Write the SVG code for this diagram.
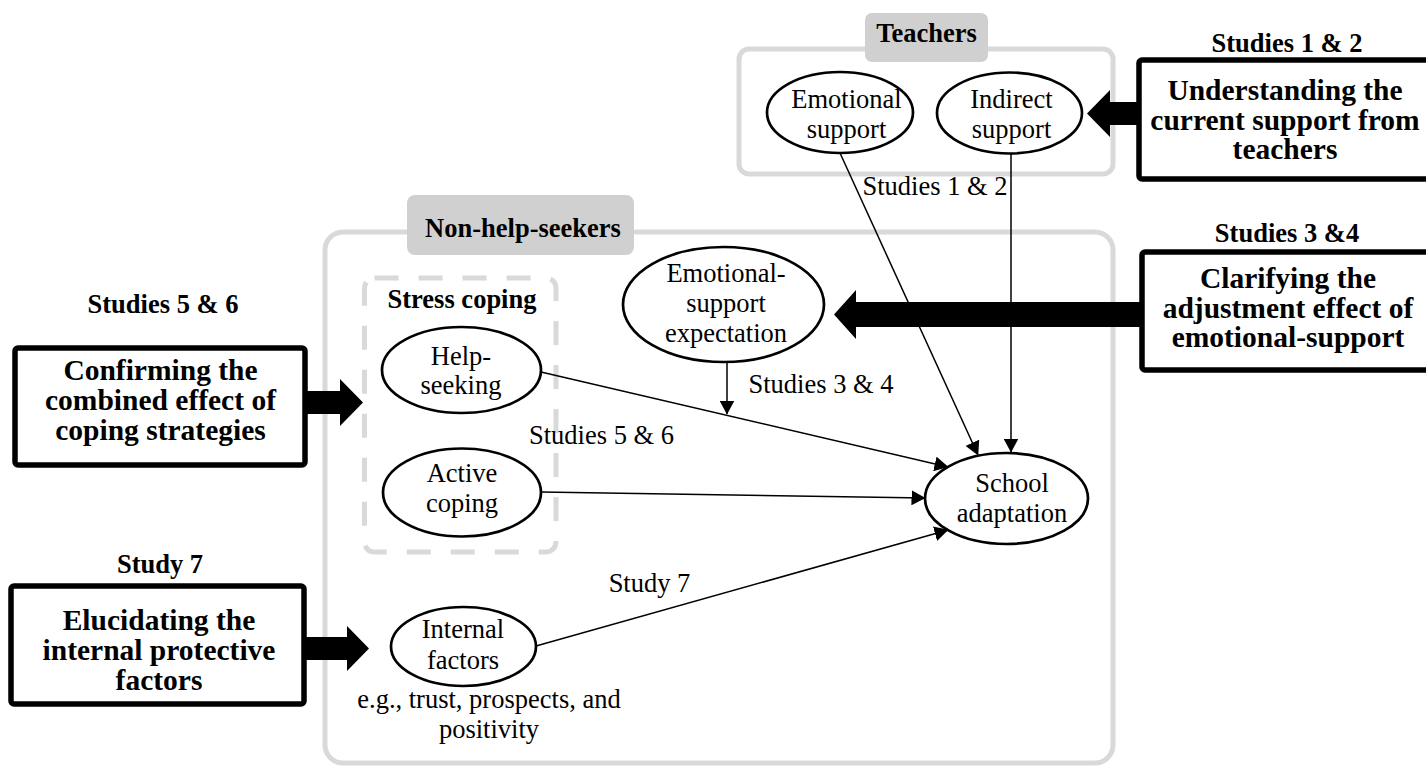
<svg xmlns="http://www.w3.org/2000/svg" width="1426" height="767" viewBox="0 0 1426 767">
  <defs>
    <style>
      .t { font-family: "Liberation Serif", "Times New Roman", serif; font-size: 26.5px; fill: #000; text-anchor: middle; }
      .b { font-weight: bold; }
      .bx { font-size: 29.5px; }
      .group { fill: none; stroke: #d9d9d9; stroke-width: 5; }
      .dash { fill: none; stroke: #d9d9d9; stroke-width: 5; stroke-dasharray: 24 20; }
      .tag { fill: #d0d0d0; stroke: none; }
      .node { fill: #fff; stroke: #000; stroke-width: 2.7; }
      .study { fill: #fff; stroke: #000; stroke-width: 5.5; }
      .edge { fill: none; stroke: #000; stroke-width: 1.5; }
      .block { fill: #000; stroke: none; }
    </style>
    <marker id="head" markerUnits="userSpaceOnUse" viewBox="0 0 14 15" refX="13.5" refY="7.5" markerWidth="14" markerHeight="15" orient="auto">
      <path d="M0,0 L14,7.5 L0,15 Z" fill="#000"/>
    </marker>
  </defs>

  <rect width="1426" height="767" fill="#fff"/>

  <!-- Group frames -->
  <g id="teachers-group">
    <rect class="group" x="739" y="49" width="374" height="125" rx="10"/>
    <rect class="tag" x="865" y="13" width="123" height="49" rx="7"/>
    <text class="t b" x="926.5" y="42">Teachers</text>
  </g>

  <g id="non-help-seekers-group">
    <rect class="group" x="325" y="232" width="788" height="531" rx="18"/>
    <rect class="tag" x="407" y="195" width="227" height="60" rx="8"/>
    <text class="t b" x="523" y="237">Non-help-seekers</text>
  </g>

  <g id="stress-coping-group">
    <rect class="dash" x="364.5" y="278" width="191.5" height="274" rx="10"/>
    <text class="t b" x="462" y="308">Stress coping</text>
  </g>

  <!-- Connectors -->
  <g id="connectors">
    <line class="edge" x1="840" y1="153" x2="978" y2="455" marker-end="url(#head)"/>
    <line class="edge" x1="1011" y1="153" x2="1011" y2="452" marker-end="url(#head)"/>
    <line class="edge" x1="541" y1="372" x2="948" y2="467" marker-end="url(#head)"/>
    <line class="edge" x1="541" y1="492" x2="925" y2="498" marker-end="url(#head)"/>
    <line class="edge" x1="536" y1="646" x2="948" y2="530" marker-end="url(#head)"/>
    <line class="edge" x1="727" y1="362" x2="727" y2="414" marker-end="url(#head)"/>

    <!-- Block arrows from the study boxes -->
    <path class="block" d="M1140,102 L1110,102 L1110,90 L1087,113.5 L1110,137 L1110,125 L1140,125 Z"/>
    <path class="block" d="M1142,302 L856,302 L856,290 L834,314.5 L856,339 L856,327 L1142,327 Z"/>
    <path class="block" d="M305,391 L340,391 L340,379 L363,402.5 L340,426 L340,414 L305,414 Z"/>
    <path class="block" d="M304,637 L347,637 L347,626 L369,648.5 L347,671 L347,660 L304,660 Z"/>

    <text class="t" x="935" y="195">Studies 1 &amp; 2</text>
    <text class="t" x="821" y="393">Studies 3 &amp; 4</text>
    <text class="t" x="601.5" y="444">Studies 5 &amp; 6</text>
    <text class="t" x="649.5" y="592">Study 7</text>
  </g>

  <!-- Construct nodes -->
  <g id="emotional-support">
    <ellipse class="node" cx="840" cy="112.5" rx="73" ry="40.5"/>
    <text class="t" x="846.5" y="108">Emotional</text>
    <text class="t" x="846.5" y="138">support</text>
  </g>

  <g id="indirect-support">
    <ellipse class="node" cx="1009.5" cy="113" rx="72.5" ry="40.5"/>
    <text class="t" x="1011.5" y="108">Indirect</text>
    <text class="t" x="1011.5" y="138">support</text>
  </g>

  <g id="emotional-support-expectation">
    <ellipse class="node" cx="723.5" cy="304.5" rx="100.5" ry="57.5"/>
    <text class="t" x="726" y="282">Emotional-</text>
    <text class="t" x="726" y="312">support</text>
    <text class="t" x="726" y="342">expectation</text>
  </g>

  <g id="help-seeking">
    <ellipse class="node" cx="461.5" cy="370" rx="79.5" ry="43"/>
    <text class="t" x="461" y="365">Help-</text>
    <text class="t" x="461" y="394">seeking</text>
  </g>

  <g id="active-coping">
    <ellipse class="node" cx="462" cy="492.5" rx="79" ry="44"/>
    <text class="t" x="462" y="482">Active</text>
    <text class="t" x="462" y="512">coping</text>
  </g>

  <g id="internal-factors">
    <ellipse class="node" cx="463.5" cy="646.5" rx="72.5" ry="39.5"/>
    <text class="t" x="463" y="638">Internal</text>
    <text class="t" x="463" y="669">factors</text>
    <text class="t" x="489" y="708">e.g., trust, prospects, and</text>
    <text class="t" x="489" y="738">positivity</text>
  </g>

  <g id="school-adaptation">
    <ellipse class="node" cx="1006.5" cy="498.5" rx="81.5" ry="45.5"/>
    <text class="t" x="1012" y="492">School</text>
    <text class="t" x="1012" y="522">adaptation</text>
  </g>

  <!-- Study boxes -->
  <g id="studies-1-2">
    <text class="t b" x="1287" y="52">Studies 1 &amp; 2</text>
    <rect class="study" x="1139" y="60" width="310" height="119" rx="3"/>
    <text class="t b bx" x="1285" y="100">Understanding the</text>
    <text class="t b bx" x="1285" y="129.5">current support from</text>
    <text class="t b bx" x="1285" y="159">teachers</text>
  </g>

  <g id="studies-3-4">
    <text class="t b" x="1287" y="242">Studies 3 &amp;4</text>
    <rect class="study" x="1142" y="252" width="310" height="118" rx="3"/>
    <text class="t b bx" x="1288" y="288">Clarifying the</text>
    <text class="t b bx" x="1288" y="317.5">adjustment effect of</text>
    <text class="t b bx" x="1288" y="347">emotional-support</text>
  </g>

  <g id="studies-5-6">
    <text class="t b" x="163" y="313">Studies 5 &amp; 6</text>
    <rect class="study" x="15" y="348" width="290" height="117" rx="3"/>
    <text class="t b bx" x="160.5" y="380">Confirming the</text>
    <text class="t b bx" x="160.5" y="410">combined effect of</text>
    <text class="t b bx" x="160.5" y="439.5">coping strategies</text>
  </g>

  <g id="study-7">
    <text class="t b" x="160" y="573">Study 7</text>
    <rect class="study" x="11" y="586" width="293" height="118" rx="3"/>
    <text class="t b bx" x="159" y="630">Elucidating the</text>
    <text class="t b bx" x="159" y="660">internal protective</text>
    <text class="t b bx" x="159" y="689.5">factors</text>
  </g>
</svg>
